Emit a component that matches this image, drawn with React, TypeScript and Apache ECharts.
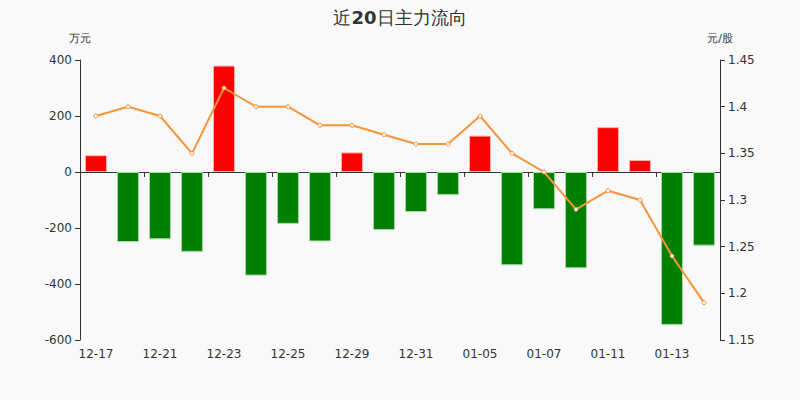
import React, { useEffect, useRef } from "react";
import * as echarts from "echarts";

const dates = ["12-17","12-18","12-21","12-22","12-23","12-24","12-25","12-28","12-29","12-30","12-31","01-04","01-05","01-06","01-07","01-08","01-11","01-12","01-13","01-14"];
const flows = [60,-250,-240,-285,380,-370,-185,-248,70,-207,-143,-82,130,-333,-133,-344,160,43,-546,-263];
const prices = [1.39,1.40,1.39,1.35,1.42,1.40,1.40,1.38,1.38,1.37,1.36,1.36,1.39,1.35,1.33,1.29,1.31,1.30,1.24,1.19];
const leftTicks = { min: -600, max: 400, interval: 200 };
const rightTicks = { min: 1.15, max: 1.45, interval: 0.05 };

export default function App() {
  const ref = useRef<HTMLDivElement>(null);
  useEffect(() => {
    document.body.style.margin = "0";
    const chart = echarts.init(ref.current!, null, { renderer: "svg" });
    const font = "DejaVu Sans";
    chart.setOption({
      animation: false,
      backgroundColor: "#f9f9f9",
      textStyle: { fontFamily: font },
      title: {
        text: "{a|近}{b|20}{a|日主力流向}",
        left: "center",
        top: 3,
        textStyle: {
          fontWeight: "normal",
          rich: {
            a: { fontSize: 18, fontWeight: "normal", color: "#333", fontFamily: font },
            b: { fontSize: 18, fontWeight: "bold", color: "#333", fontFamily: font },
          },
        },
      },
      grid: { left: 80, right: 80, top: 60, bottom: 60 },
      xAxis: [
        {
          type: "category",
          data: dates,
          position: "bottom",
          axisLine: { onZero: true, lineStyle: { color: "#333" } },
          axisTick: { show: true, interval: 1, lineStyle: { color: "#333" } },
          axisLabel: { show: false },
        },
        {
          type: "category",
          data: dates,
          position: "bottom",
          axisLine: { show: false, onZero: false },
          axisTick: { show: false },
          axisLabel: { interval: 1, color: "#333", fontSize: 12, margin: 8 },
        },
      ],
      yAxis: [
        {
          type: "value",
          name: "万元",
          nameTextStyle: { color: "#333", fontSize: 11, align: "center" },
          nameGap: 16,
          ...leftTicks,
          axisLine: { show: true, lineStyle: { color: "#333" } },
          axisTick: { show: true },
          axisLabel: { color: "#333", fontSize: 12 },
          splitLine: { show: false },
        },
        {
          type: "value",
          name: "元/股",
          nameTextStyle: { color: "#333", fontSize: 11, align: "center" },
          nameGap: 16,
          ...rightTicks,
          axisLine: { show: true, lineStyle: { color: "#333" } },
          axisTick: { show: true },
          axisLabel: { color: "#333", fontSize: 12 },
          splitLine: { show: false },
        },
      ],
      series: [
        {
          type: "bar",
          xAxisIndex: 0,
          yAxisIndex: 0,
          barWidth: 22,
          data: flows.map((v) => ({
            value: v,
            itemStyle: {
              color: v >= 0 ? "#ff0000" : "#008000",
              borderColor: v >= 0 ? "#ffb0b0" : "#a8d8a8",
              borderWidth: 1,
            },
          })),
        },
        {
          type: "line",
          xAxisIndex: 0,
          yAxisIndex: 1,
          data: prices,
          symbol: "circle",
          symbolSize: 4,
          itemStyle: { color: "#ffffff", borderColor: "#f7943a", borderWidth: 1 },
          lineStyle: { color: "#f7943a", width: 2 },
        },
      ],
    });
    return () => chart.dispose();
  }, []);
  return <div ref={ref} style={{ width: 800, height: 400 }} />;
}
